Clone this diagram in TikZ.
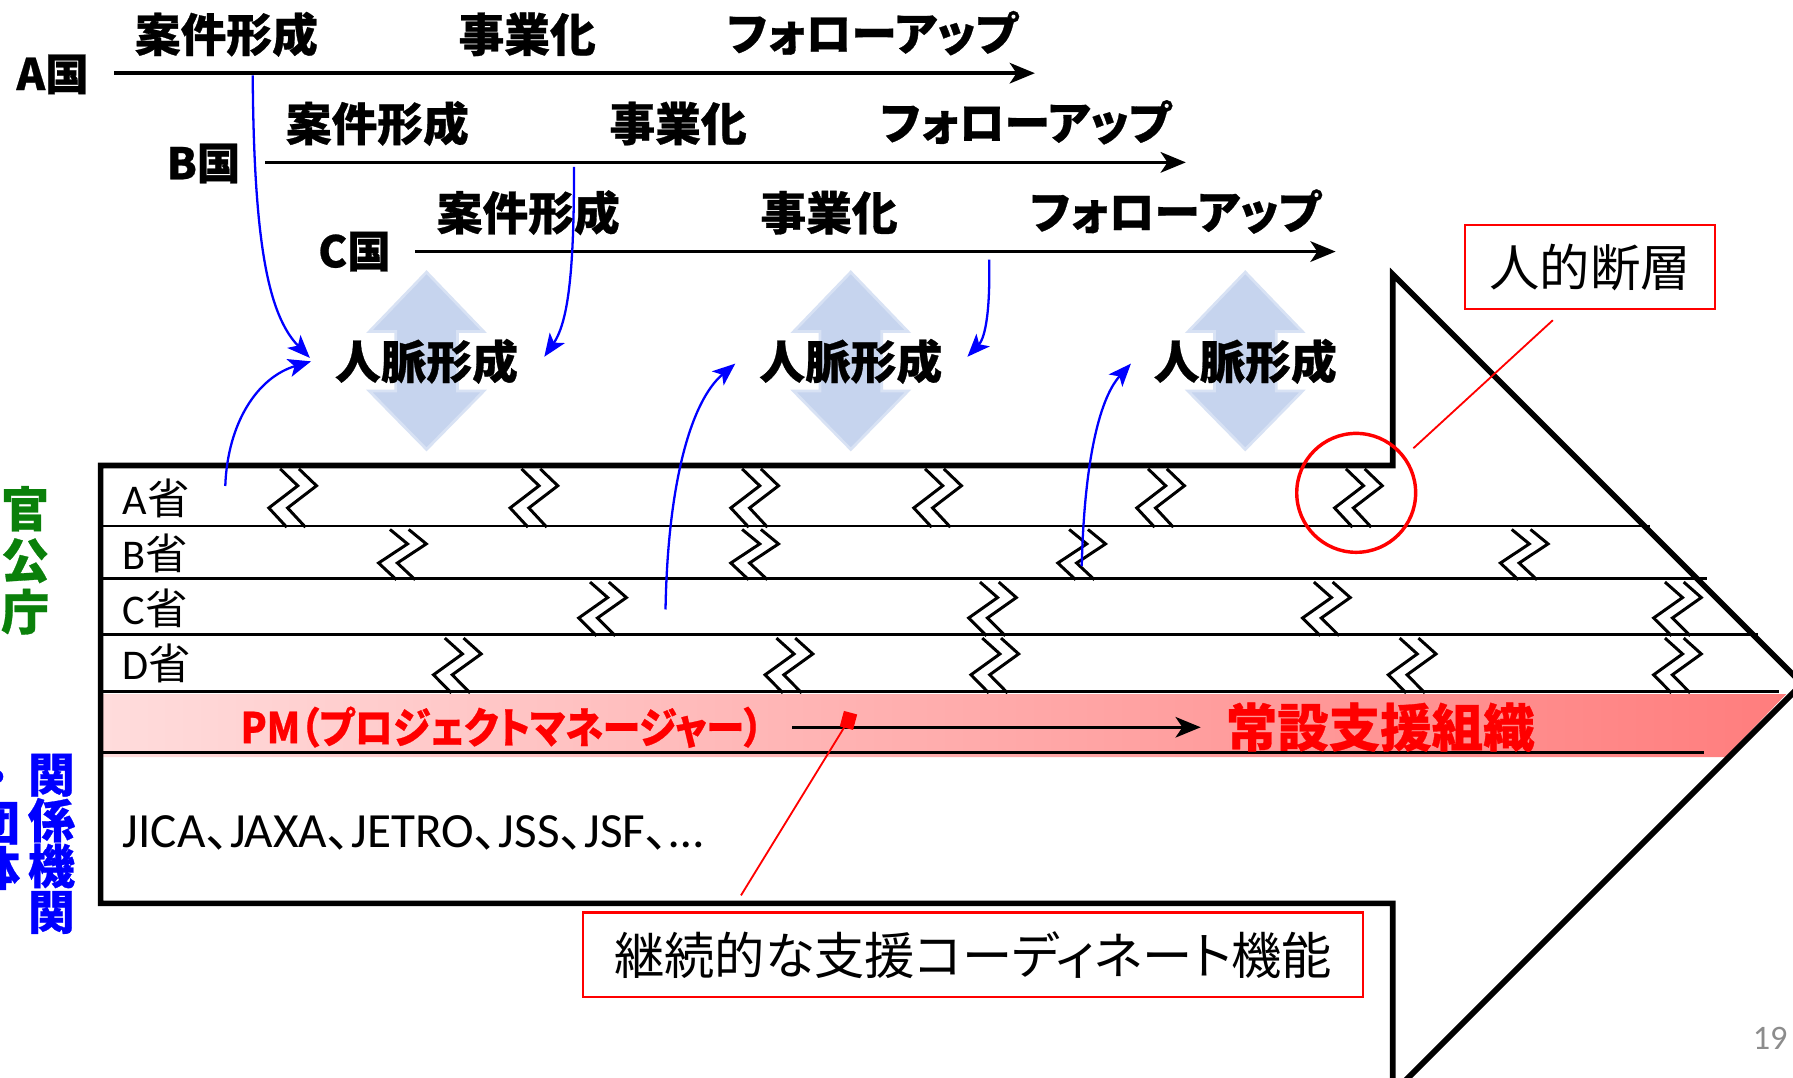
\documentclass[tikz,border=0pt]{standalone}
\usepackage{fontspec}
\setmainfont{Carlito}
\newfontfamily\jp[RawFeature=+palt,BoldFeatures={FakeBold=0.6}]{Noto Sans CJK JP}
\usetikzlibrary{arrows.meta}
\definecolor{offgreen}{RGB}{10,128,10}
\definecolor{ablue}{RGB}{0,0,255}
\definecolor{ared}{RGB}{255,0,0}
\definecolor{dbl}{RGB}{198,212,238}
\definecolor{dbledge}{RGB}{216,226,244}
\definecolor{pinkL}{RGB}{255,220,220}
\definecolor{pinkR}{RGB}{255,125,125}
\definecolor{pgray}{RGB}{140,140,140}
\newcommand\hb{\jp\bfseries}
\newcommand\brkmark[3]{%
  \draw[brk] ({#1-11},{#2+1}) -- ({#1+4.4},{#2+0.31*(#3-#2)}) -- ({#1-20.9},{#2+0.69*(#3-#2)}) -- ({#1-5.3},{#3+1});
  \draw[brk] ({#1+5.4},{#2+1}) -- ({#1+20.8},{#2+0.31*(#3-#2)}) -- ({#1-4.5},{#2+0.69*(#3-#2)}) -- ({#1+11.1},{#3+1});
}
\newcommand\dblarrow[1]{%
  \path[dblarrow] (#1,238) -- ({#1+50},290) -- ({#1+27},290) -- ({#1+27},342) -- ({#1+50},342) -- (#1,393) -- ({#1-50},342) -- ({#1-27},342) -- ({#1-27},290) -- ({#1-50},290) -- cycle;
}
\begin{document}
\begin{tikzpicture}[x=0.5pt,y=-0.5pt,
  tl/.style={line width=1.5pt,-{Stealth[length=11pt,width=9pt,inset=3pt]}},
  bl/.style={ablue,line width=1pt,-{Stealth[length=10pt,width=8pt,inset=2.5pt]}},
  head/.style={font=\hb\fontsize{20}{24}\selectfont,inner sep=0},
  ctry/.style={font=\hb\fontsize{19}{22}\selectfont,inner sep=0},
  rowlab/.style={font=\fontsize{18.5}{20}\selectfont,anchor=west,inner sep=0},
  brk/.style={line width=1.3pt,line join=miter},
  rowline/.style={line width=1.25pt},
  dblarrow/.style={fill=dbl,draw=dbledge,line width=1.2pt},
  redbox/.style={draw=ared,line width=1pt,fill=white,font=\jp\fontsize{22}{26}\selectfont},
  callout/.style={ared,line width=0.8pt},
  vlab/.style={align=center,inner sep=0}]
\useasboundingbox (0,0) rectangle (1568,942);
\clip (0,0) rectangle (1568,942);
\fill[white] (0,0) rectangle (1568,942);

% pink band
\shade[left color=pinkL,right color=pinkR] (90,607) -- (1562,607) -- (1509,662) -- (90,662) -- cycle;

% light blue double arrows
\dblarrow{373}
\dblarrow{744}
\dblarrow{1089}

% timelines
\coordinate (As) at (100,64);  \coordinate (Ae) at (905,64);
\coordinate (Bs) at (232,142); \coordinate (Be) at (1037,142);
\coordinate (Cs) at (363,220); \coordinate (Ce) at (1168,220);
\draw[tl] (As) -- (Ae);
\draw[tl] (Bs) -- (Be);
\draw[tl] (Cs) -- (Ce);

\node[ctry] (Ak) at (46,65) {A国};
\node[ctry] (Bk) at (178,143) {B国};
\node[ctry] (Ck) at (310,220) {C国};

\node[head] (A1) at (198,30) {案件形成};
\node[head] (A2) at (461,30) {事業化};
\node[head] (A3) at (763,29) {フォローアップ};
\node[head] (B1) at (330,108) {案件形成};
\node[head] (B2) at (593,108) {事業化};
\node[head] (B3) at (897,107) {フォローアップ};
\node[head] (C1) at (462,186) {案件形成};
\node[head] (C2) at (725,186) {事業化};
\node[head] (C3) at (1028,185) {フォローアップ};

\node[head] (J1) at (373,316) {人脈形成};
\node[head] (J2) at (744,316) {人脈形成};
\node[head] (J3) at (1089,316) {人脈形成};

% big arrow outline
\draw[line width=2.5pt,line join=miter] (88,407) -- (1218,407) -- (1218,240) -- (1576,598) -- (1218,956) -- (1218,790) -- (88,790) -- cycle;

% row lines
\draw[rowline] (88,460) -- (1443,460);
\draw[rowline] (88,506) -- (1493,506);
\draw[rowline] (88,555) -- (1537,555);
\draw[rowline] (88,605) -- (1556,605);
\draw[rowline] (88,658) -- (1490,658);

% break marks
\foreach \x in {256,467,660,820,1015,1188} {\brkmark{\x}{409}{460}}
\foreach \x in {352,660,946,1333} {\brkmark{\x}{462}{506}}
\foreach \x in {527,868,1160,1467} {\brkmark{\x}{508}{555}}
\foreach \x in {400,690,870,1235,1467} {\brkmark{\x}{557}{605}}

% row labels
\node[rowlab] (rA) at (107,436) {A{\jp 省}};
\node[rowlab] (rB) at (107,484) {B{\jp 省}};
\node[rowlab] (rC) at (107,532) {C{\jp 省}};
\node[rowlab] (rD) at (107,580) {D{\jp 省}};

% PM band
\node[font=\hb\fontsize{18.5}{20}\selectfont,text=ared,anchor=west,inner sep=0] (pm) at (210,636) {\scalebox{0.9}[1]{PM（プロジェクトマネージャー）}};
\node[font=\hb\fontsize{22.5}{26}\selectfont,text=ared,inner sep=0] (org) at (1207,636) {常設支援組織};
\coordinate (pmS) at (693,636); \coordinate (pmE) at (1050,636);
\draw[line width=1.2pt,-{Stealth[length=11pt,width=9pt,inset=3pt]}] (pmS) -- (pmE);

\node[anchor=west,inner sep=0,font=\fontsize{21.5}{24}\selectfont] (orgs) at (107,728) {JICA{\jp 、}JAXA{\jp 、}JETRO{\jp 、}JSS{\jp 、}JSF{\jp 、}…};

% blue curved arrows
\coordinate (b1s) at (221,66);  \coordinate (b1t) at (271,313);
\coordinate (b2s) at (502,146); \coordinate (b2t) at (476,312);
\coordinate (b3s) at (865,227); \coordinate (b3t) at (846,312);
\coordinate (b4s) at (197,425); \coordinate (b4t) at (272,316);
\coordinate (b5s) at (582,533); \coordinate (b5t) at (643,318);
\coordinate (b6s) at (946,495); \coordinate (b6t) at (989,318);
\draw[bl] (b1s) .. controls (222,210) and (234,275) .. (b1t);
\draw[bl] (b2s) .. controls (502,230) and (498,280) .. (b2t);
\draw[bl] (b3s) .. controls (866,270) and (862,295) .. (b3t);
\draw[bl] (b4s) .. controls (199,370) and (225,330) .. (b4t);
\draw[bl] (b5s) .. controls (584,420) and (605,350) .. (b5t);
\draw[bl] (b6s) .. controls (948,410) and (960,350) .. (b6t);

% vertical labels
\node[vlab,text=offgreen,font=\hb\fontsize{21}{22.5}\selectfont] (gov) at (22,490) {官\\公\\庁};
\node[vlab,text=ablue,font=\hb\fontsize{20.5}{20}\selectfont] (rel) at (45,738) {関\\係\\機\\関};
\node[vlab,text=ablue,font=\hb\fontsize{20.5}{20}\selectfont] (rel2) at (-3,726) {・\\団\\体};

% callouts
\node[redbox,minimum width=341pt,minimum height=37pt] (cbox) at (851,835) {継続的な支援コーディネート機能};
\node[redbox,minimum width=109.5pt,minimum height=36.5pt] (jbox) at (1390.5,233.5) {人的断層};
\node[draw=ared,circle,line width=1.5pt,minimum size=52pt,inner sep=0] (circ) at (1186,431) {};
\coordinate (j1) at (1358,280); \coordinate (j2) at (1236,392);
\draw[callout] (j1) -- (j2);
\node[fill=ared,minimum width=6pt,minimum height=7pt,rotate=-15,inner sep=0] (mk) at (742,630) {};
\coordinate (c2) at (648,783);
\draw[callout] (mk.center) -- (c2);

\node[text=pgray,font=\fontsize{15}{18}\selectfont,inner sep=0] (pg) at (1548,908) {19};
\end{tikzpicture}
\end{document}
